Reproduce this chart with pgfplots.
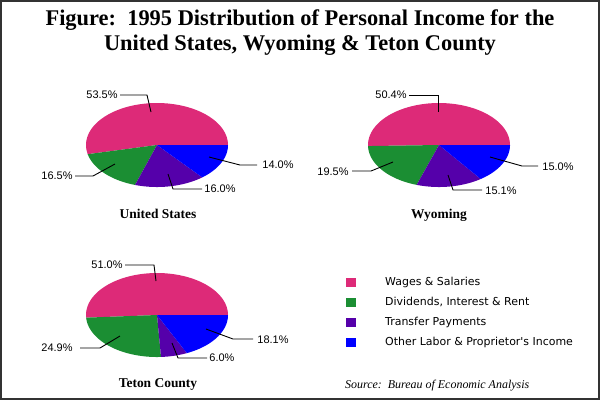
\documentclass[border=0pt]{standalone}
\usepackage{pgfplots}
\pgfplotsset{compat=1.18}
\usepackage{fontspec}
\setmainfont{Liberation Serif}
\newfontfamily\labfont{Liberation Sans}
\newfontfamily\legfont{DejaVu Sans}
\definecolor{cwage}{RGB}{221,42,120}
\definecolor{cdiv}{RGB}{27,142,51}
\definecolor{ctrans}{RGB}{85,0,170}
\definecolor{cother}{RGB}{0,0,255}
% pie slice: cx, cy, start share, end share (cumulative percent), style
\newcommand{\pieslice}[5]{%
  \addplot[fill=#5, draw=none, domain={3.6*#3}:{3.6*#4}, samples=60, variable=\t, #5]
    ({#1+71*cos(\t)}, {#2-42*sin(\t)}) -- (axis cs:#1,#2) -- cycle;}
\begin{document}
\begin{tikzpicture}
\begin{axis}[
  width=600bp, height=400bp, scale only axis,
  xmin=0, xmax=600, ymin=0, ymax=400, y dir=reverse,
  hide axis, clip=false,
  legend image code/.code={\fill[#1, draw=none] (0bp,-4.5bp) rectangle (10bp,4.5bp);},
  legend style={at={(axis cs:346,275.5)}, anchor=north west, draw=none, fill=none,
    inner sep=0pt, row sep=7bp,
    /tikz/every odd column/.append style={column sep=27.5bp},
    nodes={font=\legfont\fontsize{11}{13}\selectfont, inner sep=1.5bp, text height=8bp, text depth=2bp}},
  legend cell align=left,
]
% United States: 53.5, 16.5, 16.0, 14.0
\pieslice{157}{145}{0}{53.5}{cwage}
\addlegendentry{Wages \& Salaries}
\pieslice{157}{145}{53.5}{70.0}{cdiv}
\addlegendentry{Dividends, Interest \& Rent}
\pieslice{157}{145}{70.0}{86.0}{ctrans}
\addlegendentry{Transfer Payments}
\pieslice{157}{145}{86.0}{100}{cother}
\addlegendentry{Other Labor \& Proprietor's Income}
% Wyoming: 50.4, 19.5, 15.1, 15.0
\pieslice{439}{145}{0}{50.4}{cwage,forget plot}
\pieslice{439}{145}{50.4}{69.9}{cdiv,forget plot}
\pieslice{439}{145}{69.9}{85.0}{ctrans,forget plot}
\pieslice{439}{145}{85.0}{100}{cother,forget plot}
% Teton County: 51.0, 24.9, 6.0, 18.1
\pieslice{157}{315}{0}{51.0}{cwage,forget plot}
\pieslice{157}{315}{51.0}{75.9}{cdiv,forget plot}
\pieslice{157}{315}{75.9}{81.9}{ctrans,forget plot}
\pieslice{157}{315}{81.9}{100}{cother,forget plot}

% frame
\draw[black!80, line width=2bp] (axis cs:1,1) rectangle (axis cs:599,399);
% title
\node[font=\bfseries\fontsize{22.5}{26}\selectfont, anchor=base] at (axis cs:300,25) {Figure:\ \ 1995 Distribution of Personal Income for the};
\node[font=\bfseries\fontsize{22.5}{26}\selectfont, anchor=base] at (axis cs:300,50) {United States, Wyoming \& Teton County};
% subtitles
\node[font=\bfseries\fontsize{13.5}{16}\selectfont, anchor=base] at (axis cs:158,218.5) {United States};
\node[font=\bfseries\fontsize{13.5}{16}\selectfont, anchor=base] at (axis cs:439,218.5) {Wyoming};
\node[font=\bfseries\fontsize{13.5}{16}\selectfont, anchor=base] at (axis cs:158,387.5) {Teton County};
% source
\node[font=\itshape\fontsize{12}{14}\selectfont, anchor=base west, inner sep=0pt] at (axis cs:345,388) {Source:\ \ Bureau of Economic Analysis};

% leader lines and labels
\begin{scope}[line width=0.9bp]
% US
\draw (axis cs:120,95) -- (axis cs:147,95) -- (axis cs:151,112);
\node[font=\labfont\fontsize{11}{13}\selectfont, anchor=east, inner sep=0pt] at (axis cs:118,95) {53.5\%};
\draw (axis cs:75,176) -- (axis cs:93,176) -- (axis cs:115,164);
\node[font=\labfont\fontsize{11}{13}\selectfont, anchor=east, inner sep=0pt] at (axis cs:73,176) {16.5\%};
\draw (axis cs:168,174) -- (axis cs:173,189) -- (axis cs:202,189);
\node[font=\labfont\fontsize{11}{13}\selectfont, anchor=west, inner sep=0pt] at (axis cs:204,189) {16.0\%};
\draw (axis cs:209,157) -- (axis cs:240,165) -- (axis cs:257,165);
\node[font=\labfont\fontsize{11}{13}\selectfont, anchor=west, inner sep=0pt] at (axis cs:262,165) {14.0\%};
% Wyoming
\draw (axis cs:409,95) -- (axis cs:438,95) -- (axis cs:438,112);
\node[font=\labfont\fontsize{11}{13}\selectfont, anchor=east, inner sep=0pt] at (axis cs:407,95) {50.4\%};
\draw (axis cs:352,171) -- (axis cs:371,171) -- (axis cs:393,162);
\node[font=\labfont\fontsize{11}{13}\selectfont, anchor=east, inner sep=0pt] at (axis cs:349,172) {19.5\%};
\draw (axis cs:448,175) -- (axis cs:453,190) -- (axis cs:482,190);
\node[font=\labfont\fontsize{11}{13}\selectfont, anchor=west, inner sep=0pt] at (axis cs:485,191) {15.1\%};
\draw (axis cs:490,157) -- (axis cs:522,166) -- (axis cs:538,166);
\node[font=\labfont\fontsize{11}{13}\selectfont, anchor=west, inner sep=0pt] at (axis cs:542,167) {15.0\%};
% Teton
\draw (axis cs:125,265) -- (axis cs:154,265) -- (axis cs:156,281);
\node[font=\labfont\fontsize{11}{13}\selectfont, anchor=east, inner sep=0pt] at (axis cs:123,265) {51.0\%};
\draw (axis cs:80,348) -- (axis cs:100,348) -- (axis cs:120,336);
\node[font=\labfont\fontsize{11}{13}\selectfont, anchor=east, inner sep=0pt] at (axis cs:73,348) {24.9\%};
\draw (axis cs:172,343) -- (axis cs:178,358) -- (axis cs:207,358);
\node[font=\labfont\fontsize{11}{13}\selectfont, anchor=west, inner sep=0pt] at (axis cs:209,358) {6.0\%};
\draw (axis cs:206,329) -- (axis cs:233,339) -- (axis cs:253,339);
\node[font=\labfont\fontsize{11}{13}\selectfont, anchor=west, inner sep=0pt] at (axis cs:257,340) {18.1\%};
\end{scope}
\end{axis}
\end{tikzpicture}
\end{document}
